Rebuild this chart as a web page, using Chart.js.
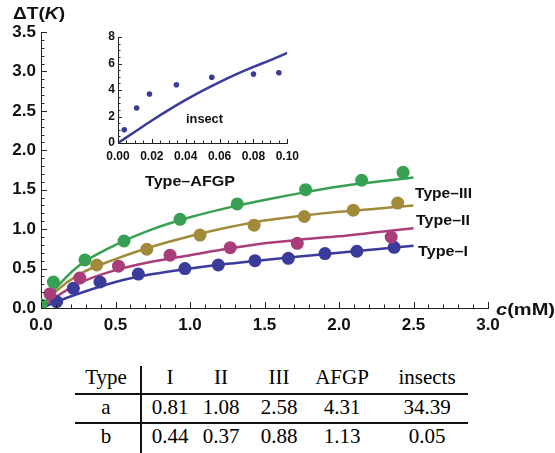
<!DOCTYPE html>
<html>
<head>
<meta charset="utf-8">
<script src="https://cdn.jsdelivr.net/npm/chart.js@4"></script>
<style>
  body { margin: 0; background: #fff; width: 555px; height: 453px; overflow: hidden; position: relative; }
  #main { position: absolute; left: 0; top: 0; }
  #inset { position: absolute; left: 90px; top: 25px; }
  .tb { position: absolute; font-family: "Liberation Serif", "Times New Roman", serif; font-size: 21px; line-height: 21px; color: #000; transform: translateX(-50%); white-space: nowrap; }
  .hl { position: absolute; left: 75px; width: 393px; height: 2px; background: #111; }
  .vl { position: absolute; left: 140px; top: 366px; width: 1.5px; height: 87px; background: #111; }
</style>
</head>
<body>
<canvas id="main" width="555" height="345"></canvas>
<canvas id="inset" width="215" height="145"></canvas>
<div id="tbl"></div>
<script>
function $(id) {
  return document.getElementById(id);
}

// fitted curves at these concentrations (mM)
const cGrid = [0, 0.1, 0.25, 0.5, 0.75, 1, 1.25, 1.5, 1.75, 2, 2.25, 2.5];
const blueFit = [0, 0.075, 0.18, 0.33, 0.43, 0.5, 0.56, 0.61, 0.655, 0.7, 0.745, 0.79];
const pinkFit = [0, 0.14, 0.31, 0.48, 0.59, 0.67, 0.75, 0.82, 0.87, 0.91, 0.96, 1.01];
const goldFit = [0, 0.21, 0.42, 0.62, 0.78, 0.91, 1.02, 1.11, 1.17, 1.22, 1.26, 1.3];
const greenFit = [0, 0.25, 0.53, 0.8, 1.0, 1.15, 1.27, 1.37, 1.46, 1.54, 1.6, 1.655];

// measured points
const blueC = [0.105, 0.217, 0.396, 0.653, 0.966, 1.19, 1.436, 1.66, 1.906, 2.12, 2.37];
const blueT = [0.08, 0.25, 0.33, 0.43, 0.5, 0.545, 0.6, 0.63, 0.69, 0.72, 0.77];
const pinkC = [0.06, 0.26, 0.52, 0.866, 1.27, 1.72, 2.35];
const pinkT = [0.18, 0.38, 0.53, 0.67, 0.765, 0.82, 0.9];
const goldC = [0.374, 0.71, 1.067, 1.43, 1.767, 2.096, 2.394];
const goldT = [0.545, 0.745, 0.925, 1.05, 1.16, 1.24, 1.33];
const greenC = [0, 0.083, 0.295, 0.557, 0.933, 1.317, 1.776, 2.152, 2.43];
const greenT = [0.04, 0.33, 0.61, 0.85, 1.125, 1.32, 1.5, 1.62, 1.72];

// inset: insect
const insGrid = [0, 0.01, 0.02, 0.03, 0.04, 0.05, 0.06, 0.07, 0.08, 0.09, 0.1];
const insFit = [0, 0.85, 1.7, 2.5, 3.25, 3.95, 4.6, 5.2, 5.75, 6.25, 6.8];
const insC = [0.0037, 0.011, 0.0186, 0.0345, 0.0554, 0.08, 0.095];
const insT = [1.0, 2.64, 3.7, 4.4, 4.96, 5.2, 5.3];

// table
const tblHead = ["Type", "I", "II", "III", "AFGP", "insects"];
const tblA = ["a", "0.81", "1.08", "2.58", "4.31", "34.39"];
const tblB = ["b", "0.44", "0.37", "0.88", "1.13", "0.05"];

const BLUE = "#3b3b9c", PINK = "#a93d7a", GOLD = "#a18b3b", GREEN = "#38a052";
const SANS = '"Liberation Sans", Arial, sans-serif';

function pts(xs, ys) {
  return xs.map((x, i) => ({ x: x, y: ys[i] }));
}
function pointSet(xs, ys, col, r) {
  return { data: pts(xs, ys), showLine: false, pointRadius: r, pointBackgroundColor: col, pointBorderWidth: 0, order: 0 };
}
function lineSet(xs, ys, col, w) {
  return { data: pts(xs, ys), showLine: true, pointRadius: 0, borderColor: col, borderWidth: w,
    cubicInterpolationMode: "monotone", fill: false, order: 1 };
}

// text squeezed/stretched to a given width, parts = [[text, italic], ...]
function fitText(ctx, parts, left, cy, w, size) {
  ctx.save();
  const fonts = parts.map((p) => (p[1] ? "italic " : "") + "bold " + size + "px " + SANS);
  let total = 0;
  parts.forEach((p, i) => { ctx.font = fonts[i]; total += ctx.measureText(p[0]).width; });
  ctx.translate(left, cy);
  ctx.scale(w / total, 1);
  ctx.textBaseline = "middle";
  ctx.fillStyle = "#111";
  let x = 0;
  parts.forEach((p, i) => { ctx.font = fonts[i]; ctx.fillText(p[0], x, 0); x += ctx.measureText(p[0]).width; });
  ctx.restore();
}

// Mathematica style ticks pointing into the plot
const inTicks = {
  id: "inTicks",
  afterDraw: (chart, args, o) => {
    const { ctx, chartArea: a } = chart;
    const x = chart.scales.x, y = chart.scales.y;
    ctx.save();
    ctx.strokeStyle = "#222";
    ctx.lineWidth = 1;
    ctx.beginPath();
    for (let i = 0; i <= o.xn; i++) {
      const px = Math.round(x.getPixelForValue(i * o.xs)) + 0.5;
      const len = i % o.xm === 0 ? o.maj : o.min;
      ctx.moveTo(px, a.bottom);
      ctx.lineTo(px, a.bottom - len);
    }
    for (let i = 0; i <= o.yn; i++) {
      const py = Math.round(y.getPixelForValue(i * o.ys)) + 0.5;
      const len = i % o.ym === 0 ? o.maj : o.min;
      ctx.moveTo(a.left, py);
      ctx.lineTo(a.left + len, py);
    }
    ctx.stroke();
    ctx.restore();
    if (o.labels) o.labels(ctx);
  },
};

function axis(min, max, step, dec, size, pad, fitFn) {
  return {
    type: "linear", min: min, max: max,
    ticks: { stepSize: step, callback: (v) => v.toFixed(dec), font: { family: SANS, weight: "bold", size: size }, color: "#111", padding: pad },
    grid: { display: true, drawOnChartArea: false, drawTicks: false },
    border: { display: true, color: "#222", width: 1 },
    afterFit: fitFn,
  };
}

Chart.defaults.animation = false;

new Chart($("main"), {
  type: "scatter",
  data: {
    datasets: [
      pointSet(greenC, greenT, GREEN, 6.5),
      pointSet(goldC, goldT, GOLD, 6.5),
      pointSet(pinkC, pinkT, PINK, 6.5),
      pointSet(blueC, blueT, BLUE, 6.5),
      lineSet(cGrid, greenFit, GREEN, 2.5),
      lineSet(cGrid, goldFit, GOLD, 2.5),
      lineSet(cGrid, pinkFit, PINK, 2.5),
      lineSet(cGrid, blueFit, BLUE, 2.5),
    ],
  },
  options: {
    responsive: false,
    layout: { padding: { top: 32, right: 67, left: 0, bottom: 0 } },
    scales: {
      x: axis(0, 3, 0.5, 1, 17, 7, (s) => { s.height = 37; }),
      y: axis(0, 3.5, 0.5, 1, 17, 5, (s) => { s.width = 41; }),
    },
    plugins: {
      legend: { display: false },
      tooltip: { enabled: false },
      inTicks: {
        xs: 0.1, xn: 30, xm: 5, ys: 0.1, yn: 35, ym: 5, maj: 6, min: 3.5,
        labels: (ctx) => {
          fitText(ctx, [["\u0394T(", false], ["K", true], [")", false]], 13, 15, 52, 16);
          fitText(ctx, [["c", true], ["(mM)", false]], 496, 311, 59, 16);
          fitText(ctx, [["Type\u2013III", false]], 415, 194, 57, 14);
          fitText(ctx, [["Type\u2013II", false]], 416, 221.5, 54, 14);
          fitText(ctx, [["Type\u2013I", false]], 418, 252.5, 50, 14);
          fitText(ctx, [["Type\u2013AFGP", false]], 145, 182, 90, 15);
        },
      },
    },
  },
  plugins: [inTicks],
});

new Chart($("inset"), {
  type: "scatter",
  data: {
    datasets: [
      pointSet(insC, insT, BLUE, 2.8),
      lineSet(insGrid, insFit, BLUE, 2.5),
    ],
  },
  options: {
    responsive: false,
    layout: { padding: { top: 12, right: 14, left: 0, bottom: 0 } },
    scales: {
      x: axis(0, 0.1, 0.02, 2, 12, 6, (s) => { s.height = 27; }),
      y: axis(0, 8, 2, 0, 12, 3, (s) => { s.width = 28; }),
    },
    plugins: {
      legend: { display: false },
      tooltip: { enabled: false },
      inTicks: {
        xs: 0.005, xn: 20, xm: 4, ys: 0.5, yn: 16, ym: 4, maj: 4, min: 2.5,
        labels: (ctx) => {
          fitText(ctx, [["insect", false]], 96, 95, 37, 12.5);
        },
      },
    },
  },
  plugins: [inTicks],
});

// table under the chart
const colX = [106, 170, 221, 279, 342, 427];
const rowY = [378, 408, 437];
let html = "";
[tblHead, tblA, tblB].forEach((row, r) => {
  row.forEach((t, c) => {
    html += `<div class="tb" style="left:${colX[c]}px;top:${rowY[r] - 11}px">${t}</div>`;
  });
});
html += `<div class="hl" style="top:393px"></div><div class="hl" style="top:422px"></div><div class="vl"></div>`;
$("tbl").innerHTML = html;
</script>
</body>
</html>
